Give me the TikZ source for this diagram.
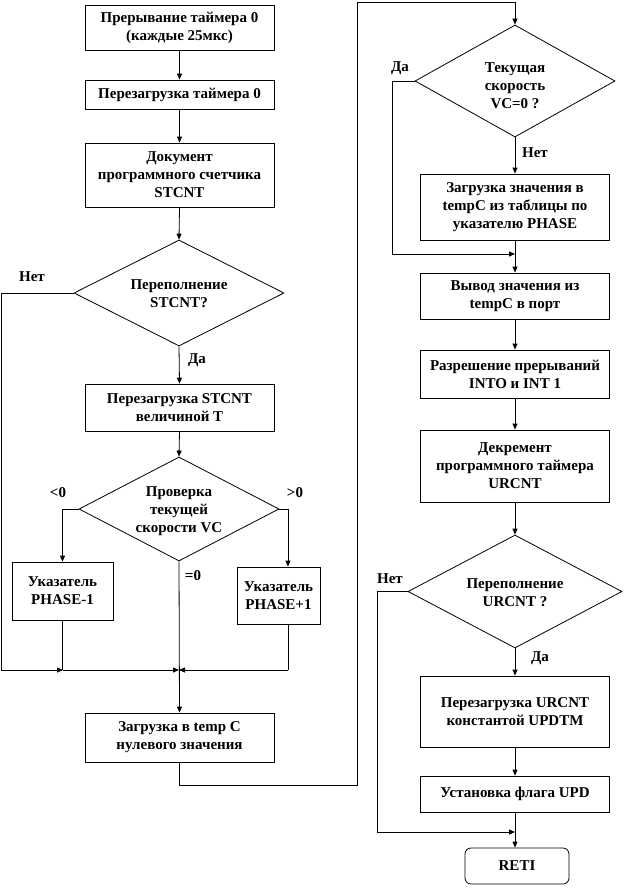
\documentclass[tikz,border=0pt]{standalone}
\usepackage{fontspec}
\setmainfont{Liberation Serif}
\usetikzlibrary{shapes.geometric,arrows.meta,calc}
\begin{document}
\begin{tikzpicture}[x=1pt,y=-1pt,
  every node/.style={font=\bfseries\fontsize{15}{18}\selectfont},
  box/.style={draw,line width=0.8pt,align=center,inner sep=1pt,minimum width=189pt},
  dia/.style={draw,line width=0.8pt,diamond,inner sep=0pt},
  lbl/.style={inner sep=0pt},
  arr/.style={line width=0.8pt,-{Triangle[length=6pt,width=5pt]}},
  ln/.style={line width=0.8pt}]
\useasboundingbox (0,0) rectangle (625,888);
% left column
\node[box,minimum height=45pt] (b1) at (179.5,27.5) {Прерывание таймера 0\\(каждые 25мкс)};
\node[box,minimum height=29pt] (b2) at (179.5,94.5) {Перезагрузка таймера 0};
\node[box,minimum height=64pt] (b3) at (179.5,175) {Документ\\программного счетчика\\STCNT};
\node[dia,minimum width=210pt,minimum height=106pt] (d1) at (179,293) {};
\node[lbl,align=center] (d1t) at (179,294) {Переполнение\\STCNT?};
\node[box,minimum height=47pt] (b4) at (179.5,407.5) {Перезагрузка STCNT\\величиной T};
\node[dia,minimum width=200pt,minimum height=104pt] (d2) at (179,509) {};
\node[lbl,align=center] (d2t) at (179,511) {Проверка\\текущей\\скорости VC};
\node[box,minimum width=101pt,minimum height=58pt] (b5) at (62.5,591) {Указатель\\PHASE-1};
\node[box,minimum width=83pt,minimum height=57pt] (b6) at (278.5,595.5) {Указатель\\PHASE+1};
\node[box,minimum height=49pt] (b7) at (179.5,737.5) {Загрузка в temp C\\нулевого значения};
% right column
\node[dia,minimum width=200pt,minimum height=112pt] (d3) at (515,81) {};
\node[lbl,align=center] (d3t) at (515,86) {Текущая\\скорость\\VC=0 ?};
\node[box,minimum height=66pt] (b9) at (515,207) {Загрузка значения в\\tempC из таблицы по\\указателю PHASE};
\node[box,minimum height=46pt] (b10) at (515,296) {Вывод значения из\\tempC в порт};
\node[box,minimum height=48pt] (b11) at (515,374) {Разрешение прерываний\\INTO и INT 1};
\node[box,minimum height=72pt] (b12) at (515,466) {Декремент\\программного таймера\\URCNT};
\node[dia,minimum width=214pt,minimum height=113pt] (d4) at (515,591.5) {};
\node[lbl,align=center] (d4t) at (515,593) {Переполнение\\URCNT ?};
\node[box,minimum height=71pt] (b13) at (515,711.5) {Перезагрузка URCNT\\константой UPDTM};
\node[box,minimum height=36pt] (b14) at (515,794) {Установка флага UPD};
\node[box,rounded corners=6pt,minimum width=104pt,minimum height=36pt] (b15) at (517,866) {RETI};
% labels
\node[lbl] (l1) at (32,277) {Нет};
\node[lbl] (l2) at (197,360) {Да};
\node[lbl] (l3) at (58,493) {<0};
\node[lbl] (l4) at (295,493) {>0};
\node[lbl] (l5) at (193,576) {=0};
\node[lbl] (l6) at (400,68) {Да};
\node[lbl] (l7) at (535,153) {Нет};
\node[lbl] (l8) at (390,579) {Нет};
\node[lbl] (l9) at (540,658) {Да};
% coordinates
\coordinate (lc) at (1,670);
\coordinate (m1) at (63,670);
\coordinate (m2) at (179,670);
\coordinate (m3) at (288,670);
\coordinate (r1) at (357,785);
\coordinate (r2) at (515,2);
\coordinate (y1) at (392,254);
\coordinate (j1) at (515,254);
\coordinate (y2) at (377,832);
\coordinate (j2) at (515,832);
% connectors left
\draw[arr] (b1) -- (b2);
\draw[arr] (b2) -- (b3);
\draw[arr] (b3.south) -- (d1.north);
\draw[arr] (d1.south) -- (b4.north);
\draw[arr] (b4.south) -- (d2.north);
\draw[arr] (d1.west) -| (lc) -- (m1);
\draw[arr] (d2.west) -| (b5.north);
\draw[arr] (d2.east) -| ([xshift=9.5pt]b6.north);
\draw[ln] (b5.south) -- (b5.south |- m1);
\draw[arr] (m1) -- (m2);
\draw[ln] ([xshift=9.5pt]b6.south) -- (m3);
\draw[arr] (m3) -- (m2);
\draw[arr] (d2.south) -- (b7.north);
\draw[arr] (b7.south) |- (r1) |- (r2) -- (d3.north);
% connectors right
\draw[arr] (d3.west) -| (y1) -- (j1);
\draw[arr] (d3.south) -- (b9.north);
\draw[arr] (b9) -- (b10);
\draw[arr] (b10) -- (b11);
\draw[arr] (b11) -- (b12);
\draw[arr] (b12.south) -- (d4.north);
\draw[arr] (d4.west) -| (y2) -- (j2);
\draw[arr] (d4.south) -- (b13.north);
\draw[arr] (b13) -- (b14);
\draw[arr] (b14.south) -- (b14.south |- b15.north);
\end{tikzpicture}
\end{document}
